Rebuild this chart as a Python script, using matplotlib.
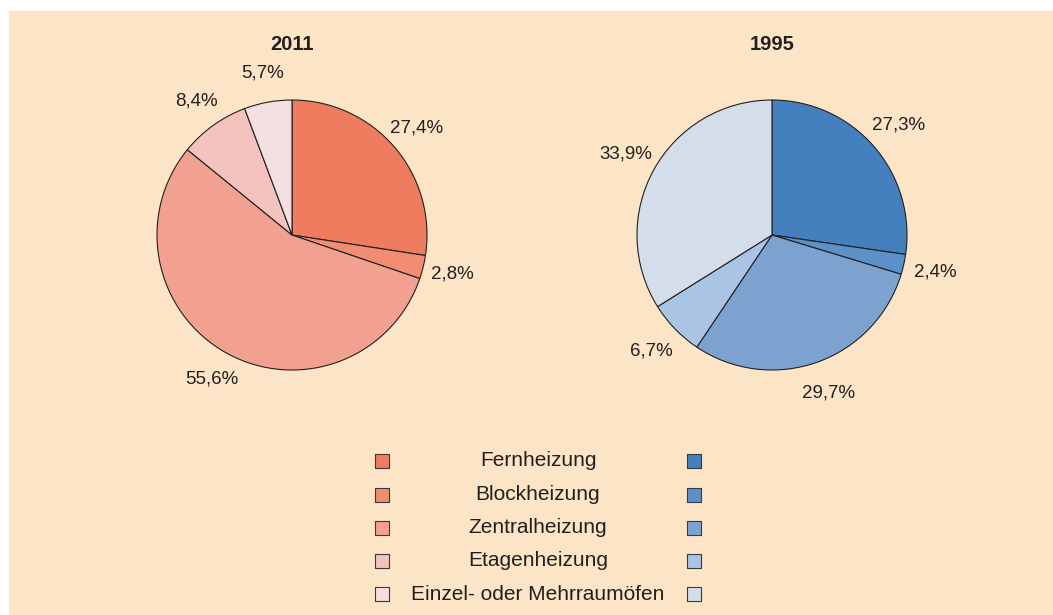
import matplotlib
matplotlib.use("Agg")
import matplotlib.pyplot as plt
from matplotlib.patches import Rectangle

plt.rcParams['font.family'] = ['Liberation Sans', 'DejaVu Sans']

kategorien = ['Fernheizung', 'Blockheizung', 'Zentralheizung', 'Etagenheizung',
              'Einzel- oder Mehrraumöfen']
werte_2011 = [27.4, 2.8, 55.6, 8.4, 5.7]
werte_1995 = [27.3, 2.4, 29.7, 6.7, 33.9]
farben_2011 = ['#EF7C5F', '#F08D72', '#F2A191', '#F4C3BD', '#F3DFE0']
farben_1995 = ['#4480BD', '#5B90C8', '#7CA3CF', '#A9C5E3', '#D3DEEA']

W, H = 1053, 615
bg = '#FCE5C6'

fig = plt.figure(figsize=(W / 100, H / 100), dpi=100)
fig.patches.append(Rectangle((9 / W, 0), 1 - 9 / W, (H - 11) / H,
                             transform=fig.transFigure, color=bg, zorder=-10))


def fmt(v):
    return f'{v:.1f}%'.replace('.', ',')


def torte(cx, cy, r, werte, farben, titel, ldist):
    ax = fig.add_axes([(cx - r) / W, (H - cy - r) / H, 2 * r / W, 2 * r / H])
    ax.patch.set_visible(False)
    wedges, texts = ax.pie(werte, colors=farben, startangle=90, counterclock=False,
                           labels=[fmt(v) for v in werte], labeldistance=ldist,
                           wedgeprops=dict(edgecolor='#231F20', linewidth=0.8),
                           textprops=dict(fontsize=13.5, color='#231F20'))
    for t in texts:
        t.set_ha('center')
    ax.set_xlim(-1, 1)
    ax.set_ylim(-1, 1)
    ax.set_aspect('equal')
    ax.axis('off')
    fig.text(cx / W, 1 - 45 / H, titel, ha='center', va='center',
             fontsize=14.5, fontweight='bold', color='#231F20')


torte(292, 235, 135, werte_2011, farben_2011, '2011', 1.22)
torte(772, 235, 135, werte_1995, farben_1995, '1995', 1.24)

# Legende
lax = fig.add_axes([0, 0, 1, 1])
lax.patch.set_visible(False)
lax.set_xlim(0, W)
lax.set_ylim(H, 0)
lax.axis('off')
zeilen = [461, 494.5, 527.5, 561, 594]
for y, name, c1, c2 in zip(zeilen, kategorien, farben_2011, farben_1995):
    lax.scatter([382], [y], marker='s', s=105, color=c1, edgecolors='#3a3a3a', linewidths=0.8)
    lax.scatter([694], [y], marker='s', s=105, color=c2, edgecolors='#3a3a3a', linewidths=0.8)
    lax.text(538, y, name, ha='center', va='center', fontsize=15, color='#231F20')

fig.savefig('out.png', dpi=100)
